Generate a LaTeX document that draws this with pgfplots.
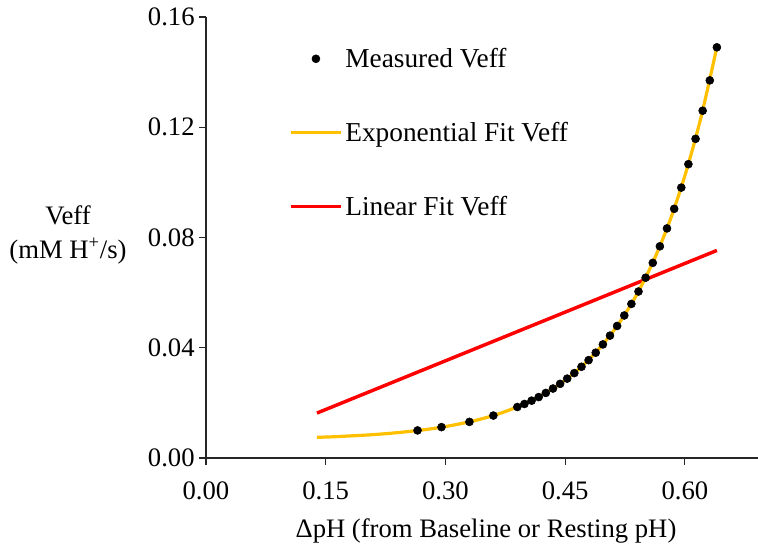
\documentclass[border=0pt]{standalone}
\usepackage{fontspec}
\setmainfont{Liberation Serif}
\usepackage{pgfplots}
\pgfplotsset{compat=1.18}
\definecolor{excelgold}{RGB}{255,192,0}
\definecolor{excelred}{RGB}{255,0,0}
\pgfplotsset{
  lineleg/.style={legend image code/.code={\draw[##1] (0pt,0pt) -- (37.5pt,0pt);}},
  dotleg/.style={legend image code/.code={\draw[mark repeat=2, mark phase=2, ##1] plot coordinates {(0pt,0pt) (18.75pt,0pt) (37.5pt,0pt)};}},
}
\begin{document}
\begin{tikzpicture}[font=\fontsize{20}{25.5}\selectfont]
\path[use as bounding box] (-154.5pt,-67.5pt) rectangle (414pt,343.5pt);
\begin{axis}[
  scale only axis, width=414pt, height=330.75pt,
  at={(0pt,0pt)}, anchor=south west,
  xmin=0, xmax=0.6915, ymin=0, ymax=0.16,
  axis x line=bottom, axis y line=left,
  axis line style={-, line width=1pt, black!85},
  xtick={0,0.15,0.3,0.45,0.6}, ytick={0,0.04,0.08,0.12,0.16},
  /pgf/number format/assume math mode=true,
  xticklabel style={yshift=-9pt, /pgf/number format/.cd, fixed, fixed zerofill, precision=2},
  yticklabel style={/pgf/number format/.cd, fixed, fixed zerofill, precision=2},
  scaled y ticks=false, scaled x ticks=false,
  tick align=outside, major tick length=5pt,
  tick style={black!85, line width=0.8pt},
  legend style={at={(rel axis cs:0.143,0.942)}, anchor=north west, draw=none, fill=none,
    row sep=35.5pt, font=\fontsize{20.5}{24}\selectfont},
  legend cell align=left,
  reverse legend,
  clip=false,
]
\addplot[excelred, line width=2.6pt, lineleg]
  coordinates {(0.139,0.0163) (0.640,0.0753)};
\addlegendentry{Linear Fit Veff}
\addplot[excelgold, line width=2.4pt, smooth, lineleg]
  coordinates {
  (0.139,0.0075) (0.16,0.0077) (0.18,0.0080) (0.20,0.0083) (0.22,0.0087)
  (0.24,0.0092) (0.26,0.0098) (0.28,0.0105) (0.30,0.0114) (0.32,0.0125)
  (0.34,0.0138) (0.36,0.0154) (0.38,0.0174) (0.40,0.0198) (0.42,0.0227)
  (0.44,0.0262) (0.46,0.0305) (0.48,0.0358) (0.50,0.0422) (0.52,0.0500)
  (0.54,0.0595) (0.56,0.0711) (0.58,0.0852) (0.60,0.1025) (0.62,0.1235)
  (0.64,0.1491)};
\addlegendentry{Exponential Fit Veff}
\addplot[only marks, mark=*, mark size=3pt, black, dotleg]
  coordinates {
  (0.265,0.0100) (0.295,0.0112) (0.330,0.0131) (0.360,0.0154)
  (0.3900,0.0185) (0.3989,0.0196) (0.4079,0.0208) (0.4168,0.0221)
  (0.4257,0.0236) (0.4347,0.0252) (0.4436,0.0269) (0.4525,0.0288)
  (0.4614,0.0308) (0.4704,0.0331) (0.4793,0.0355) (0.4882,0.0382)
  (0.4972,0.0412) (0.5061,0.0444) (0.5150,0.0479) (0.5240,0.0517)
  (0.5329,0.0559) (0.5418,0.0604) (0.5507,0.0654) (0.5597,0.0708)
  (0.5686,0.0768) (0.5775,0.0833) (0.5865,0.0904) (0.5954,0.0981)
  (0.6043,0.1066) (0.6133,0.1158) (0.6222,0.1260) (0.6311,0.1370)
  (0.6400,0.1490)};
\addlegendentry{Measured Veff}
\end{axis}
\node[align=center] at (-103.5pt,167pt) {Veff\\(mM H\textsuperscript{+}/s)};
\node at (210pt,-55pt) {ΔpH (from Baseline or Resting pH)};
\end{tikzpicture}
\end{document}
